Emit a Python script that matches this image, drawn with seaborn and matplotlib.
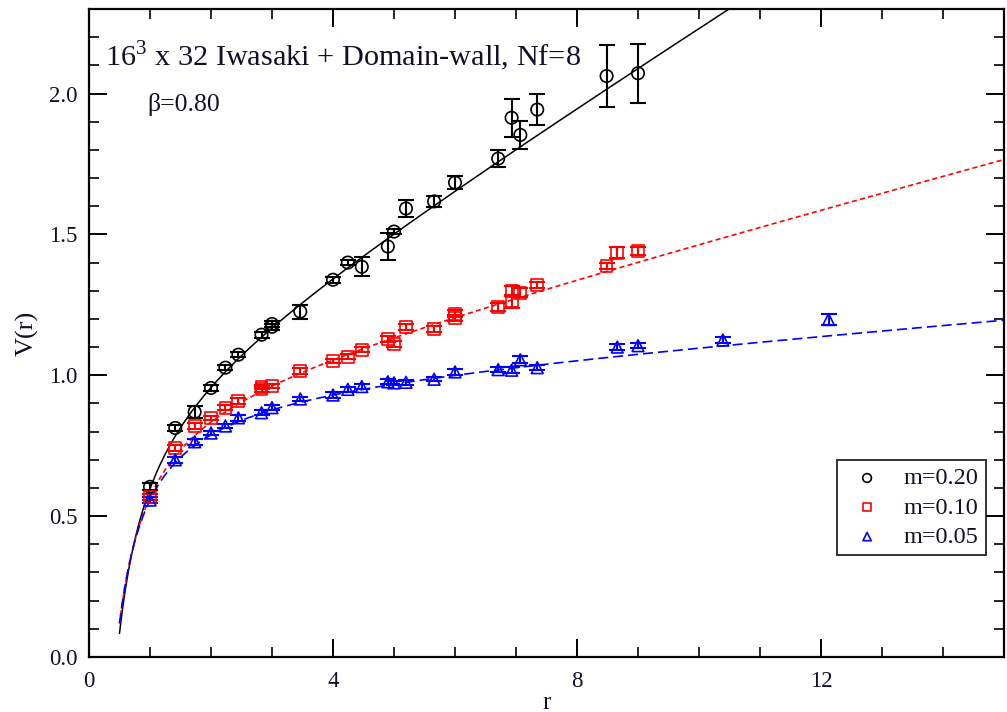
import numpy as np
import pandas as pd
import matplotlib
matplotlib.use("Agg")
import matplotlib.pyplot as plt
import seaborn as sns
from matplotlib.ticker import MultipleLocator

# Static potential V(r) measured at three fermion masses
r_m20 = [1.0, 1.414, 1.732, 2.0, 2.236, 2.449, 2.828, 3.0, 3.0, 3.464, 4.0, 4.243, 4.472,
         4.899, 5.0, 5.196, 5.657, 6.0, 6.708, 6.928, 7.071, 7.348, 8.485, 9.0]
v_m20 = [0.604, 0.813, 0.870, 0.955, 1.027, 1.073, 1.144, 1.172, 1.182, 1.226, 1.339, 1.400, 1.385,
         1.457, 1.510, 1.592, 1.617, 1.684, 1.769, 1.914, 1.853, 1.943, 2.062, 2.072]
e_m20 = [0.012, 0.010, 0.020, 0.010, 0.008, 0.008, 0.010, 0.010, 0.010, 0.025, 0.010, 0.010, 0.034,
         0.048, 0.010, 0.030, 0.020, 0.022, 0.030, 0.068, 0.050, 0.054, 0.110, 0.105]

r_m10 = [1.0, 1.414, 1.732, 2.0, 2.236, 2.449, 2.828, 2.828, 3.0, 3.464, 4.0, 4.243, 4.472,
         4.899, 5.0, 5.196, 5.657, 6.0, 6.0, 6.708, 6.928, 6.928, 7.071, 7.348, 8.485, 8.660, 9.0]
v_m10 = [0.568, 0.742, 0.820, 0.849, 0.885, 0.909, 0.950, 0.958, 0.962, 1.016, 1.050, 1.066, 1.091,
         1.128, 1.112, 1.172, 1.165, 1.203, 1.218, 1.242, 1.262, 1.298, 1.293, 1.320, 1.388, 1.435, 1.442]
e_m10 = [0.012, 0.010, 0.010, 0.008, 0.010, 0.010, 0.008, 0.008, 0.008, 0.010, 0.008, 0.008, 0.008,
         0.010, 0.010, 0.010, 0.010, 0.012, 0.012, 0.015, 0.022, 0.018, 0.015, 0.010, 0.012, 0.020, 0.015]

r_m05 = [1.0, 1.414, 1.732, 2.0, 2.236, 2.449, 2.828, 3.0, 3.464, 4.0, 4.243, 4.472,
         4.899, 5.0, 5.196, 5.657, 6.0, 6.708, 6.928, 7.071, 7.348, 8.660, 9.0, 10.392, 12.124]
v_m05 = [0.557, 0.700, 0.764, 0.795, 0.820, 0.849, 0.867, 0.885, 0.916, 0.930, 0.950, 0.960,
         0.977, 0.973, 0.975, 0.986, 1.012, 1.020, 1.018, 1.055, 1.027, 1.100, 1.105, 1.125, 1.198]
e_m05 = [0.010, 0.010, 0.010, 0.008, 0.008, 0.010, 0.008, 0.008, 0.008, 0.010, 0.008, 0.008,
         0.008, 0.008, 0.008, 0.008, 0.010, 0.008, 0.010, 0.012, 0.010, 0.012, 0.010, 0.012, 0.018]

# Cornell fit parameters V(r) = A - B/r + C*r
fit_A = [0.905, 0.928, 0.969]
fit_B = [0.445, 0.419, 0.429]
fit_C = [0.137, 0.0577, 0.0170]
fit_rmin = 0.5
fit_rmax = 15.0

labels = ["m=0.20", "m=0.10", "m=0.05"]
colors = ["black", "#ff0000", "#0000ff"]
markers = ["o", "s", "^"]
dashes = [(None, None), (3.0, 2.0), (6.0, 3.0)]

sns.set_theme(style="ticks")
plt.rcParams["font.family"] = ["Liberation Serif", "DejaVu Serif"]
plt.rcParams["mathtext.fontset"] = "custom"
plt.rcParams["mathtext.rm"] = "Liberation Serif"
text_color = "#101028"

fig = plt.figure(figsize=(10.07, 7.12), dpi=100)
ax = fig.add_axes([89 / 1007, 1 - 657 / 712, 915 / 1007, 648 / 712])

# fit curves
r_fit = np.linspace(fit_rmin, fit_rmax, 600)
for i in range(3):
    v_fit = fit_A[i] - fit_B[i] / r_fit + fit_C[i] * r_fit
    df = pd.DataFrame({"r": r_fit, "V": v_fit})
    line_kw = dict(color=colors[i], lw=1.1 if i == 0 else 1.2, ax=ax, legend=False)
    if i == 0:
        sns.lineplot(data=df, x="r", y="V", **line_kw)
    else:
        sns.lineplot(data=df, x="r", y="V", dashes=False, **line_kw)
        ax.lines[-1].set_dashes(dashes[i])

# data points with error bars
series = [(r_m20, v_m20, e_m20), (r_m10, v_m10, e_m10), (r_m05, v_m05, e_m05)]
handles = []
for i, (rr, vv, ee) in enumerate(series):
    ax.errorbar(rr, vv, yerr=ee, fmt="none", ecolor=colors[i], elinewidth=1.5,
                capsize=6, capthick=1.5, zorder=3)
    h = ax.scatter(rr, vv, marker=markers[i], facecolors="none", edgecolors=colors[i],
                   s=80 if i == 0 else 72, linewidths=1.2, zorder=4, label=labels[i])
    handles.append(h)

ax.set_xlim(0, 15)
ax.set_ylim(0, 2.3)
ax.xaxis.set_major_locator(MultipleLocator(4))
ax.xaxis.set_minor_locator(MultipleLocator(1))
ax.yaxis.set_major_locator(MultipleLocator(0.5))
ax.yaxis.set_minor_locator(MultipleLocator(0.1))
ax.xaxis.set_major_formatter(matplotlib.ticker.FormatStrFormatter("%d"))
ax.yaxis.set_major_formatter(matplotlib.ticker.FormatStrFormatter("%.1f"))
ax.tick_params(which="both", direction="in", top=True, right=True, color="black",
               labelcolor=text_color, labelsize=16.5)
ax.tick_params(which="major", length=13, width=1.4)
ax.tick_params(which="minor", length=7, width=1.2)
ax.tick_params(axis="x", which="major", pad=10)
ax.tick_params(axis="y", which="major", pad=8)
for s in ax.spines.values():
    s.set_linewidth(1.6)
    s.set_color("black")

ax.set_xlabel("r", fontsize=18, color=text_color, labelpad=0)
ax.set_ylabel("V(r)", fontsize=19, color=text_color, labelpad=8)

ax.text(0.018, 0.928, r"16$^{3}$ x 32 Iwasaki + Domain-wall, Nf=8", transform=ax.transAxes,
        fontsize=21.8, color=text_color, va="center", ha="left")
ax.text(0.064, 0.852, "\u03b2=0.80", transform=ax.transAxes,
        fontsize=18.5, color=text_color, va="center", ha="left")

leg = ax.legend(handles=handles, loc="lower right", bbox_to_anchor=(0.980, 0.157),
                fontsize=17.5, frameon=True, fancybox=False, handletextpad=0.55,
                borderpad=0.3, labelspacing=0.3, handlelength=1.9, markerscale=0.7,
                borderaxespad=0.0)
leg.get_frame().set_edgecolor("black")
leg.get_frame().set_linewidth(1.4)
for t in leg.get_texts():
    t.set_color(text_color)

fig.savefig("out.png", dpi=100)
